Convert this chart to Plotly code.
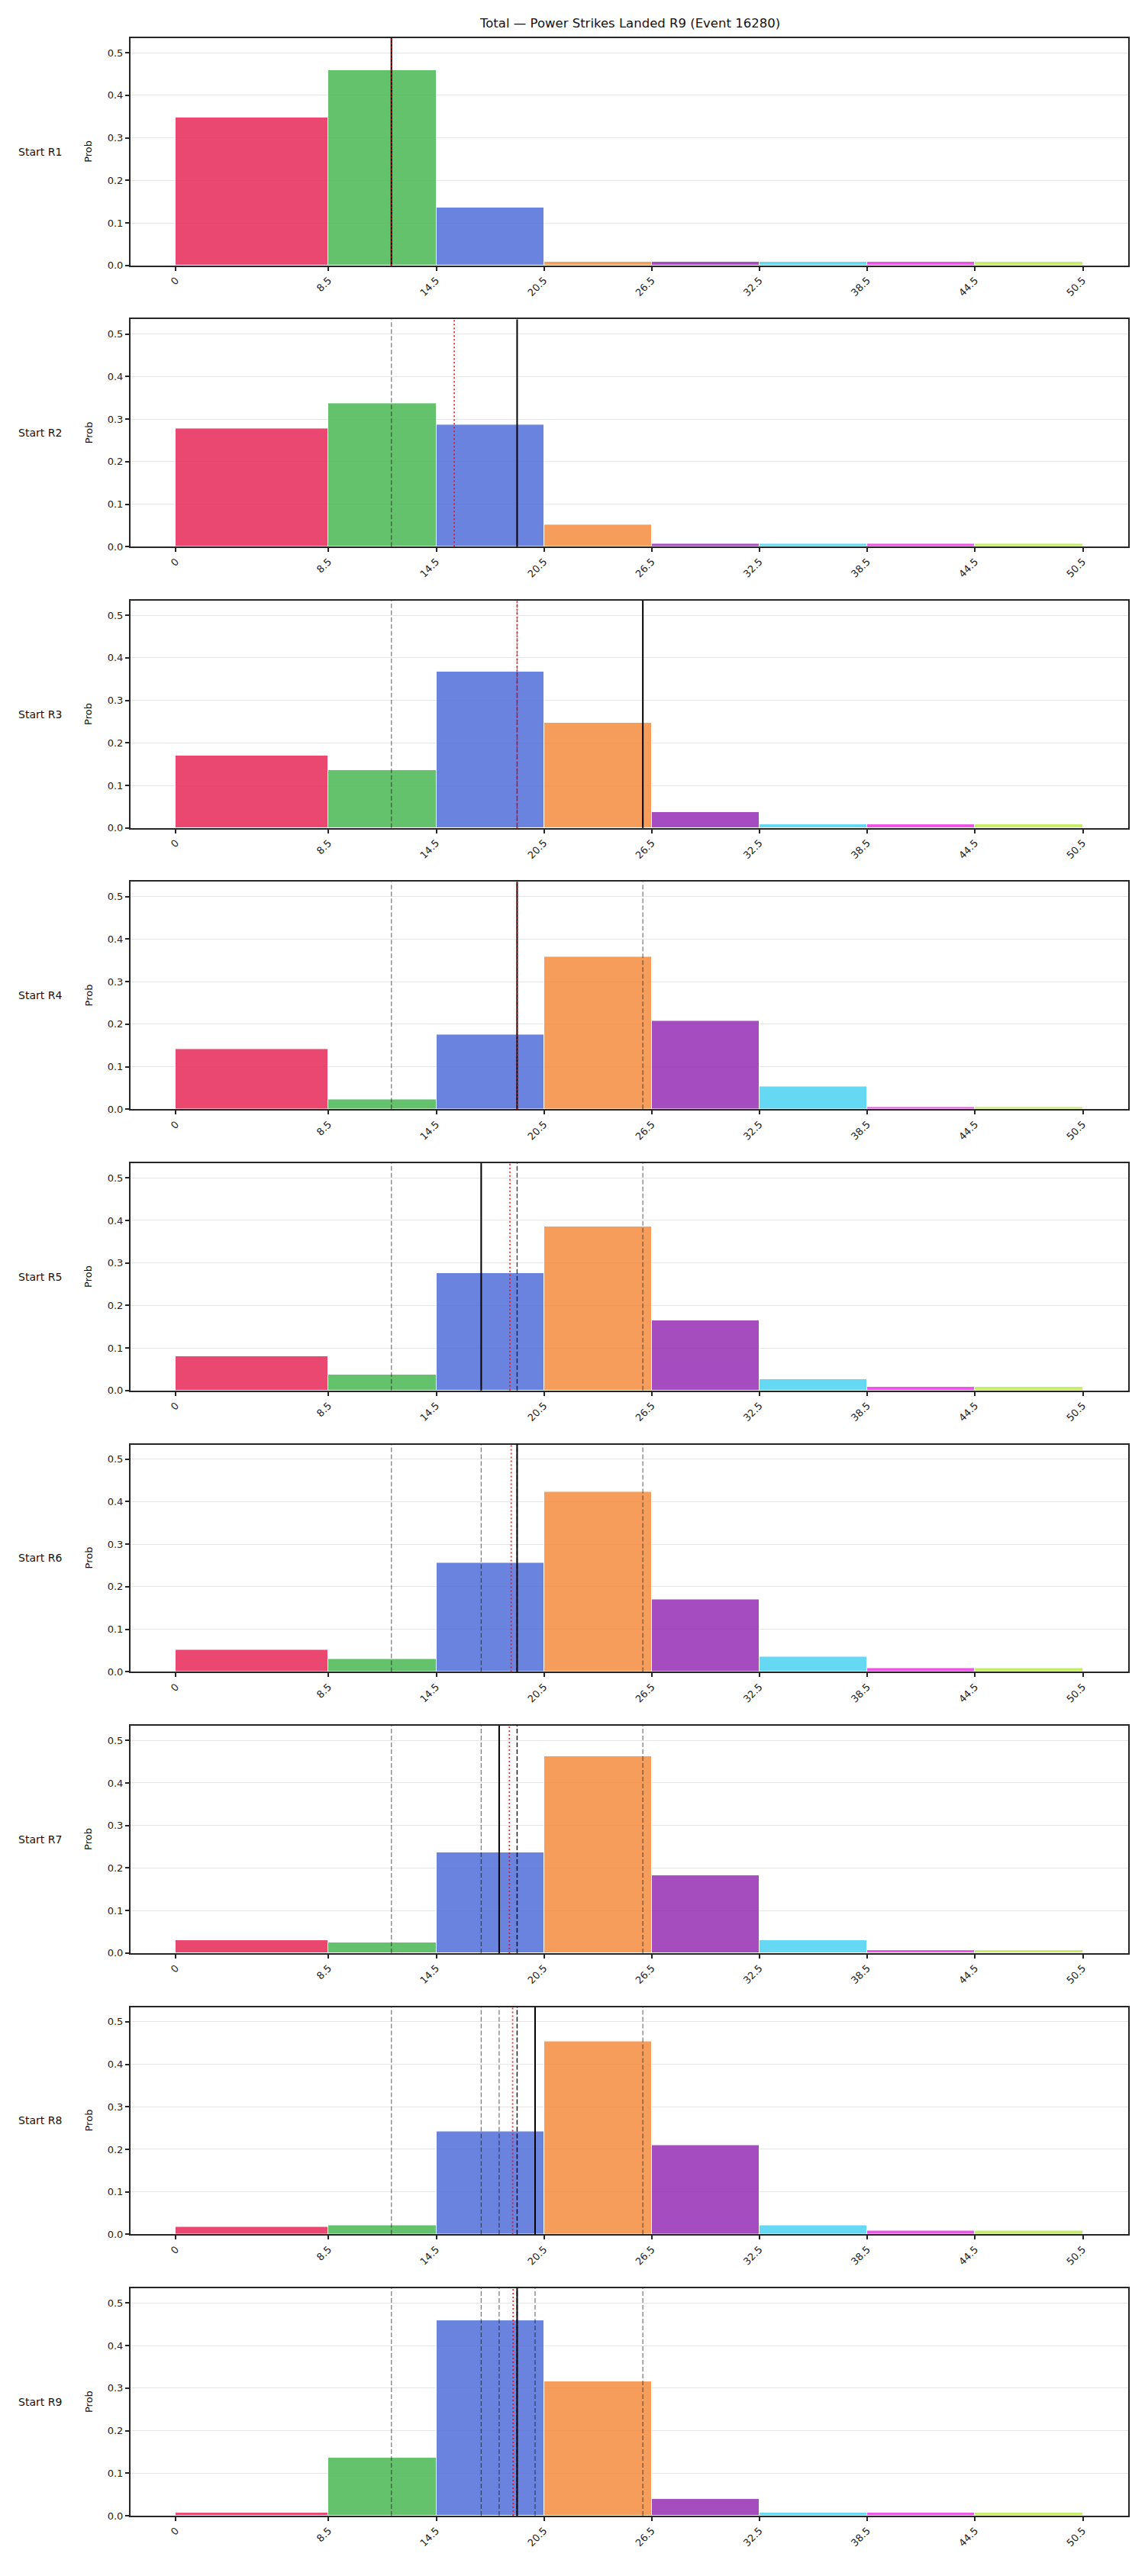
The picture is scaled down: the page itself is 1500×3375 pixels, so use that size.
import plotly.graph_objects as go

# ---------------- data ----------------
bin_edges = [0, 8.5, 14.5, 20.5, 26.5, 32.5, 38.5, 44.5, 50.5]
tick_labels = ["0", "8.5", "14.5", "20.5", "26.5", "32.5", "38.5", "44.5", "50.5"]
row_labels = ["Start R1", "Start R2", "Start R3", "Start R4", "Start R5",
              "Start R6", "Start R7", "Start R8", "Start R9"]
bin_colors = ["#E72857", "#49B854", "#506EDA", "#F68C3F",
              "#962EB5", "#4BD3F3", "#ED37E4", "#BBEA4B"]

probs_r1 = [0.348, 0.459, 0.137, 0.008, 0.008, 0.008, 0.008, 0.008]
probs_r2 = [0.278, 0.337, 0.287, 0.051, 0.007, 0.007, 0.007, 0.007]
probs_r3 = [0.171, 0.137, 0.368, 0.248, 0.037, 0.008, 0.008, 0.008]
probs_r4 = [0.142, 0.024, 0.176, 0.359, 0.208, 0.054, 0.006, 0.006]
probs_r5 = [0.080, 0.037, 0.277, 0.386, 0.164, 0.026, 0.008, 0.008]
probs_r6 = [0.051, 0.030, 0.256, 0.424, 0.170, 0.035, 0.008, 0.008]
probs_r7 = [0.030, 0.025, 0.237, 0.462, 0.183, 0.030, 0.007, 0.007]
probs_r8 = [0.017, 0.021, 0.242, 0.454, 0.210, 0.021, 0.008, 0.008]
probs_r9 = [0.007, 0.136, 0.460, 0.315, 0.039, 0.007, 0.007, 0.007]
all_probs = [probs_r1, probs_r2, probs_r3, probs_r4, probs_r5,
             probs_r6, probs_r7, probs_r8, probs_r9]

# black solid line per row; earlier rows' values are repeated as grey dashed lines
round_lines = [12.0, 19.0, 26.0, 19.0, 17.0, 19.0, 18.0, 20.0, 19.0]
# red dotted line per row
red_lines = [12.0, 15.5, 19.0, 19.0, 18.6, 18.67, 18.57, 18.75, 18.78]

title_text = "Total \u2014 Power Strikes Landed R9 (Event 16280)"

# ---------------- layout geometry ----------------
W, H = 1500, 3375
x_left, x_right = 171, 1478
top0, panel_h, period = 50, 298.6, 369.4
FONT = "DejaVu Sans, Liberation Sans, sans-serif"
AXC = "#262626"

fig = go.Figure()
shapes = []
annotations = []
layout_axes = {}

centers = [(bin_edges[i] + bin_edges[i + 1]) / 2 for i in range(len(bin_edges) - 1)]
widths = [bin_edges[i + 1] - bin_edges[i] for i in range(len(bin_edges) - 1)]

for k, probs in enumerate(all_probs):
    n = k + 1
    xa = "x" if n == 1 else f"x{n}"
    ya = "y" if n == 1 else f"y{n}"
    top = top0 + k * period
    bot = top + panel_h
    ydom = [1 - bot / H, 1 - top / H]

    fig.add_trace(go.Bar(
        x=centers, y=probs, width=widths,
        marker=dict(color=bin_colors, opacity=0.85,
                    line=dict(color="white", width=1)),
        xaxis=xa, yaxis=ya, showlegend=False, hoverinfo="x+y",
    ))

    xkey = "xaxis" if n == 1 else f"xaxis{n}"
    ykey = "yaxis" if n == 1 else f"yaxis{n}"
    layout_axes[xkey] = dict(
        domain=[x_left / W, x_right / W], anchor=ya,
        range=[-2.525, 53.025], tickmode="array",
        tickvals=bin_edges, ticktext=tick_labels, tickangle=-45,
        ticks="outside", ticklen=5, tickwidth=1.5, tickcolor=AXC,
        showline=True, linecolor=AXC, linewidth=2, mirror=True,
        showgrid=False, zeroline=False,
        tickfont=dict(family=FONT, size=13, color="#222"),
    )
    layout_axes[ykey] = dict(
        domain=ydom, anchor=xa, range=[0, 0.5345],
        tickvals=[0, 0.1, 0.2, 0.3, 0.4, 0.5],
        ticktext=["0.0", "0.1", "0.2", "0.3", "0.4", "0.5"],
        ticks="outside", ticklen=5, tickwidth=1.5, tickcolor=AXC,
        showline=True, linecolor=AXC, linewidth=2, mirror=True,
        showgrid=True, gridcolor="#e6e6e6", gridwidth=1, zeroline=False,
        tickfont=dict(family=FONT, size=13, color="#222"),
    )

    yref_dom = f"{ya} domain"
    # previous rounds: grey dashed
    for v in round_lines[:k]:
        shapes.append(dict(type="line", xref=xa, yref=yref_dom,
                           x0=v, x1=v, y0=0, y1=1,
                           line=dict(color="rgba(0,0,0,0.5)", width=1.3,
                                     dash="6px,3px")))
    # current: black solid
    v = round_lines[k]
    shapes.append(dict(type="line", xref=xa, yref=yref_dom,
                       x0=v, x1=v, y0=0, y1=1,
                       line=dict(color="black", width=2)))
    # red dotted
    v = red_lines[k]
    shapes.append(dict(type="line", xref=xa, yref=yref_dom,
                       x0=v, x1=v, y0=0, y1=1,
                       line=dict(color="rgba(255,0,0,0.85)", width=1.8,
                                 dash="2px,3px")))

    ymid = 1 - (top + panel_h / 2) / H
    annotations.append(dict(text=row_labels[k], xref="paper", yref="paper",
                            x=22 / W, y=ymid, xanchor="left", yanchor="middle",
                            showarrow=False,
                            font=dict(family=FONT, size=14, color="#111")))
    annotations.append(dict(text="Prob", xref="paper", yref="paper",
                            x=116 / W, y=ymid, xanchor="center", yanchor="middle",
                            textangle=-90, showarrow=False,
                            font=dict(family=FONT, size=13, color="#111")))

annotations.append(dict(text=title_text, xref="paper", yref="paper",
                        x=(x_left + x_right) / 2 / W, y=1 - 31 / H,
                        xanchor="center", yanchor="middle", showarrow=False,
                        font=dict(family=FONT, size=16.5, color="#111")))

fig.update_layout(
    width=W, height=H,
    margin=dict(l=0, r=0, t=0, b=0),
    paper_bgcolor="white", plot_bgcolor="white",
    bargap=0, barmode="overlay",
    shapes=shapes, annotations=annotations,
    showlegend=False,
    **layout_axes,
)

fig.write_html("out.html")
